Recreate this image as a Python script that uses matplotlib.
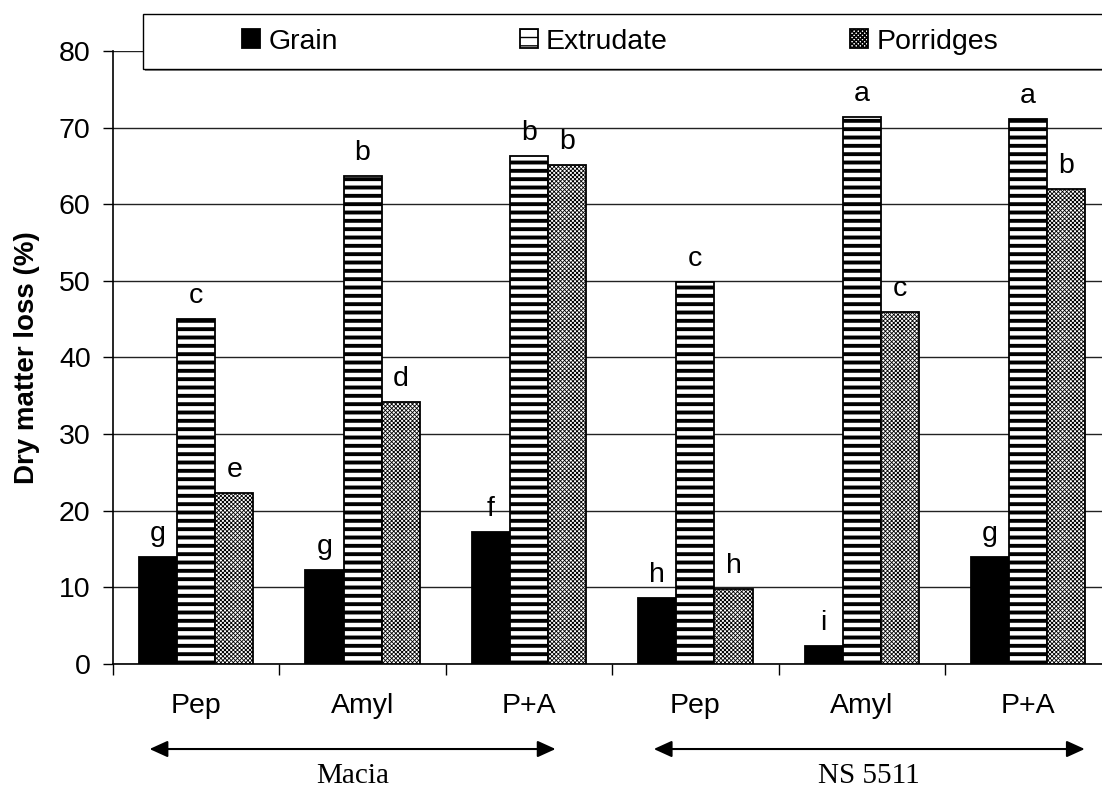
import matplotlib
matplotlib.use('Agg')
import matplotlib.pyplot as plt
import numpy as np
from matplotlib.patches import Rectangle

# ---------------- data ----------------
treatments = ['Pep', 'Amyl', 'P+A', 'Pep', 'Amyl', 'P+A']
varieties = ['Macia', 'NS 5511']
series_names = ['Grain', 'Extrudate', 'Porridges']
grain = [14.0, 12.3, 17.2, 8.6, 2.4, 14.0]
extrudate = [45.0, 63.7, 66.3, 49.9, 71.4, 71.1]
porridges = [22.3, 34.2, 65.1, 9.8, 46.0, 62.0]
grain_letters = ['g', 'g', 'f', 'h', 'i', 'g']
extrudate_letters = ['c', 'b', 'b', 'c', 'a', 'a']
porridge_letters = ['e', 'd', 'b', 'h', 'c', 'b']
yticks = [0, 10, 20, 30, 40, 50, 60, 70, 80]
ylabel = 'Dry matter loss (%)'

plt.rcParams['font.family'] = ['Liberation Sans', 'DejaVu Sans']
plt.rcParams['hatch.color'] = 'black'

FS = 20.5

fig = plt.figure(figsize=(11.02, 7.88), dpi=100)
ax = fig.add_axes([0.1025, 0.1574, 0.906, 0.7779])

n = len(treatments)
centers = np.arange(n) + 0.5
w = 0.229

styles = [
    dict(color='black', hatch=None, hlw=1.0),
    dict(color='white', hatch='--', hlw=2.8),
    dict(color='white', hatch='xxxxxxxx', hlw=0.6),
]
series = [grain, extrudate, porridges]
letters = [grain_letters, extrudate_letters, porridge_letters]
handles = []
for k, (vals, st, lets) in enumerate(zip(series, styles, letters)):
    with plt.rc_context({'hatch.linewidth': st['hlw']}):
        bars = ax.bar(centers + (k - 1) * w, vals, width=w, color=st['color'],
                      edgecolor='black', linewidth=1.3, hatch=st['hatch'],
                      label=series_names[k], zorder=3)
    for b in bars:
        if hasattr(b, 'set_hatch_linewidth'):
            b.set_hatch_linewidth(st['hlw'])
    handles.append(bars)
    for x, v, t in zip(centers + (k - 1) * w, vals, lets):
        ax.annotate(t, (x, v), xytext=(0, 7), textcoords='offset points',
                    ha='center', va='bottom', fontsize=FS, zorder=4)

ax.set_ylim(0, 80)
ax.set_xlim(0, n)
ax.set_yticks(yticks)
ax.tick_params(axis='y', direction='out', length=7, width=1, labelsize=FS, pad=9)
ax.yaxis.grid(True, color='#222222', linewidth=1.0, zorder=0)
ax.set_axisbelow(True)

ax.set_xticks(np.arange(n + 1))
ax.set_xticklabels([])
ax.set_xticks(centers, minor=True)
ax.set_xticklabels(treatments, minor=True)
ax.tick_params(axis='x', which='major', direction='out', length=8, width=1)
ax.tick_params(axis='x', which='minor', length=0, labelsize=FS, pad=21)

for s in ['top', 'right']:
    ax.spines[s].set_visible(False)
for s in ['left', 'bottom']:
    ax.spines[s].set_linewidth(1.2)

ax.set_ylabel(ylabel, fontsize=20, fontweight='bold')
ax.yaxis.set_label_coords(-0.073, 0.5)

# variety arrows
arrow_spans = [(0.22, 2.66), (3.25, 5.84)]
for (x0, x1), name in zip(arrow_spans, varieties):
    ax.annotate('', xy=(x1, -11.1), xytext=(x0, -11.1), xycoords='data',
                annotation_clip=False,
                arrowprops=dict(arrowstyle='<|-|>,head_length=0.55,head_width=0.25',
                                mutation_scale=20, color='black', lw=1.5,
                                shrinkA=0, shrinkB=0))
    ax.text((x0 + x1) / 2, -14.6, name, ha='center', va='center',
            fontsize=21, family=['Liberation Serif', 'DejaVu Serif'], clip_on=False)

# legend box
fig.add_artist(Rectangle((0.1318, 0.9094), 0.9, 0.0698, transform=fig.transFigure,
                         facecolor='#888888', edgecolor='none', zorder=9))
fig.add_artist(Rectangle((0.1298, 0.9124), 0.9, 0.0698, transform=fig.transFigure,
                         facecolor='white', edgecolor='black', linewidth=1.0, zorder=10))
leg = fig.legend(handles, series_names, ncol=3, loc='center left',
                 bbox_to_anchor=(0.2196, 0.9473), frameon=False, fontsize=FS,
                 handlelength=0.62, handleheight=0.62, handletextpad=0.3,
                 columnspacing=6.4, borderpad=0, borderaxespad=0)
leg.set_zorder(11)

fig.savefig('out.png', dpi=100)
